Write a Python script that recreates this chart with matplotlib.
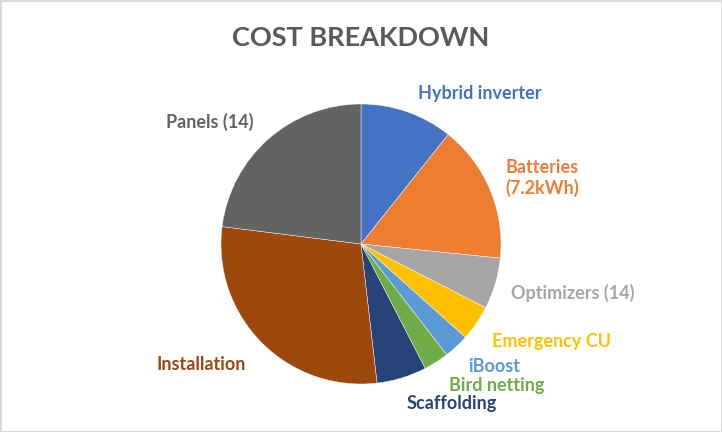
import matplotlib
matplotlib.use("Agg")
import matplotlib.pyplot as plt

# Cost breakdown (GBP)
labels = ["Hybrid inverter", "Batteries\n(7.2kWh)", "Optimizers (14)", "Emergency CU",
          "iBoost", "Bird netting", "Scaffolding", "Installation", "Panels (14)"]
costs = [1070, 1590, 590, 410, 290, 290, 575, 2880, 2300]
colors = ["#4472C4", "#ED7D31", "#A5A5A5", "#FFC000", "#5B9BD5",
          "#70AD47", "#264478", "#9E480E", "#636363"]

# label centres in pixel coordinates of the 722x432 picture
label_px = [(480, 93), (542, 178), (573, 293), (552, 341), (494, 367),
            (497, 385), (452, 403), (201, 365), (210, 122)]

W, H = 722, 432
cx, cy, r = 361, 244, 140

plt.rcParams["font.family"] = ["Lato", "DejaVu Sans"]

fig = plt.figure(figsize=(W / 100, H / 100), dpi=100)
fig.patch.set_facecolor("white")
fig.patch.set_edgecolor("#D9D9D9")
fig.patch.set_linewidth(2)

ax = fig.add_axes([(cx - r) / W, (H - cy - r) / H, 2 * r / W, 2 * r / H])
ax.pie(costs, colors=colors, startangle=90, counterclock=False, radius=1,
       wedgeprops=dict(edgecolor="white", linewidth=0.3))
ax.set_xlim(-1, 1)
ax.set_ylim(-1, 1)
ax.set_aspect("equal")
ax.axis("off")

for text, (px, py), col in zip(labels, label_px, colors):
    fig.text(px / W, 1 - py / H, text, color=col, fontsize=13, fontweight="bold",
             ha="center", va="center", linespacing=1.25)

fig.text(0.5, 1 - 38 / H, "COST BREAKDOWN", color="#595959", fontsize=19.5,
         fontweight="bold", ha="center", va="center")

plt.savefig("out.png", dpi=100, facecolor=fig.get_facecolor(),
            edgecolor=fig.get_edgecolor())
